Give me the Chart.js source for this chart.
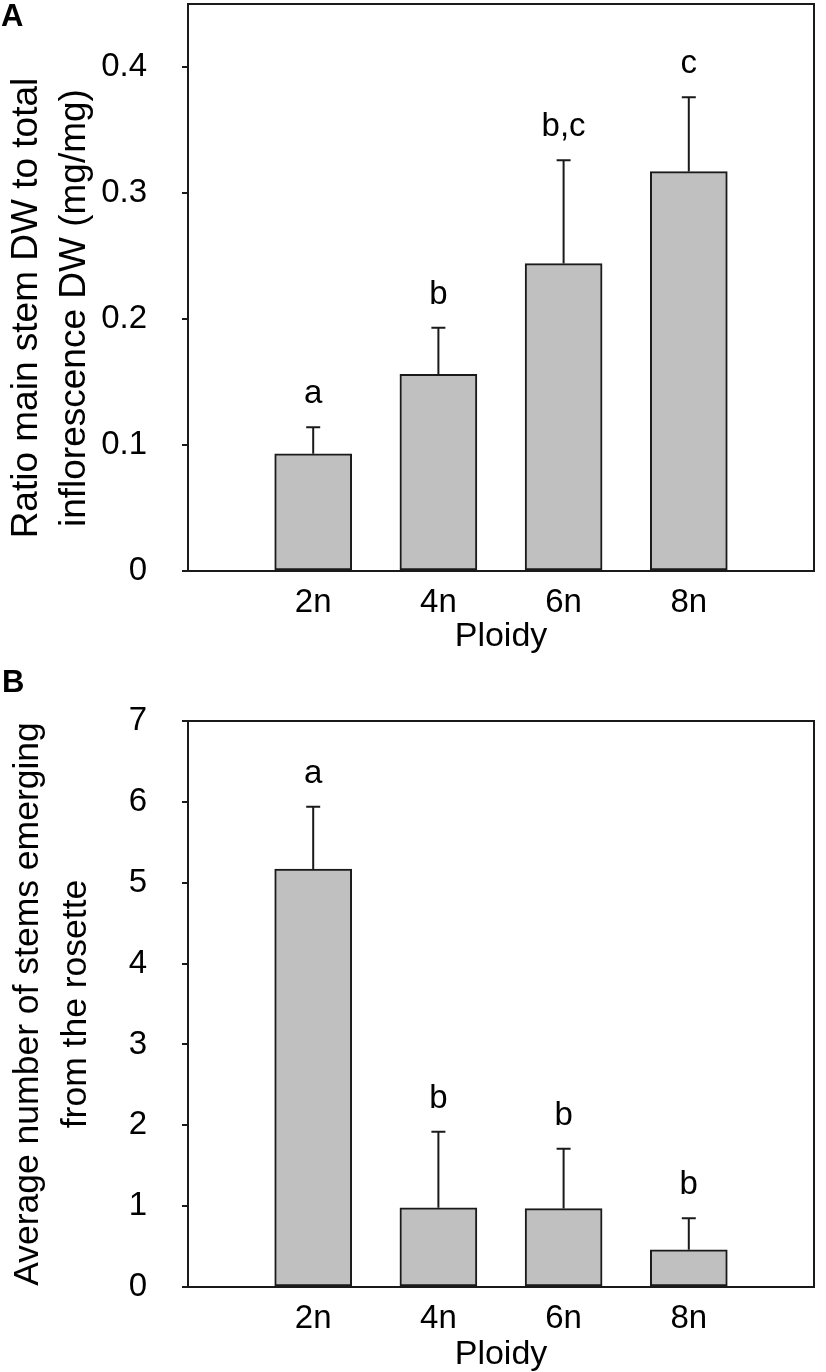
<!DOCTYPE html>
<html lang="en">

<head>
    <meta charset="UTF-8">
    <script src="https://cdn.jsdelivr.net/npm/chart.js@4.4.1/dist/chart.umd.min.js"></script>
    <title>Ploidy - stem ratio and stem number</title>
    <style>
        body { margin: 0; background: #fff; font-family: 'Liberation Sans', Arial, sans-serif; }
        .wrap { position: relative; width: 826px; height: 1372px; }
        canvas { position: absolute; left: 0; }
        #chartA { top: 0; }
        #chartB { top: 660px; }
        .tag { position: absolute; font-weight: bold; font-size: 31px; line-height: 1; color: #000; }
    </style>
</head>

<body>
    <div class="wrap">
        <canvas id="chartA" width="826" height="660"></canvas>
        <canvas id="chartB" width="826" height="712"></canvas>
        <div class="tag" style="left:1px; top:0px;">A</div>
        <div class="tag" style="left:2px; top:666px;">B</div>
    </div>

    <script>
        // empty slots at both ends so the bars sit one step in from the box edges
        const ploidy = ['', '2n', '4n', '6n', '8n', ''];

        const ratioMean = [null, 0.093, 0.156, 0.244, 0.317, null];
        const ratioErr = [null, 0.021, 0.037, 0.082, 0.059, null];
        const ratioLetters = ['', 'a', 'b', 'b,c', 'c', ''];

        const stemsMean = [null, 5.17, 0.98, 0.97, 0.46, null];
        const stemsErr = [null, 0.77, 0.94, 0.74, 0.39, null];
        const stemsLetters = ['', 'a', 'b', 'b', 'b', ''];

        Chart.defaults.font.family = "'Liberation Sans', Arial, sans-serif";
        Chart.defaults.color = '#000';

        const INK = '#1a1a1a';

        // upward error bars + significance letters, placed with the chart's scales
        const errorBars = {
            id: 'errorBars',
            afterDatasetsDraw(chart, args, opts) {
                const { ctx, scales: { x, y } } = chart;
                ctx.save();
                ctx.strokeStyle = INK;
                ctx.lineWidth = 2;
                ctx.fillStyle = '#000';
                ctx.font = '33px "Liberation Sans", Arial, sans-serif';
                ctx.textAlign = 'center';
                ctx.textBaseline = 'alphabetic';
                opts.means.forEach((m, i) => {
                    if (m === null) return;
                    const px = x.getPixelForValue(i);
                    const yBar = y.getPixelForValue(m);
                    const yTop = y.getPixelForValue(m + opts.errors[i]);
                    ctx.beginPath();
                    ctx.moveTo(px, yBar);
                    ctx.lineTo(px, yTop);
                    ctx.moveTo(px - 7, yTop);
                    ctx.lineTo(px + 7, yTop);
                    ctx.stroke();
                    ctx.fillText(opts.letters[i], px, yTop - 24);
                });
                ctx.restore();
            },
            afterDraw(chart) {
                const { ctx, chartArea: a } = chart;
                ctx.save();
                ctx.strokeStyle = INK;
                ctx.lineWidth = 2;
                ctx.strokeRect(a.left, a.top, a.right - a.left, a.bottom - a.top);
                ctx.restore();
            }
        };

        function drawChart(id, opt) {
            return new Chart(document.getElementById(id), {
                type: 'bar',
                data: {
                    labels: ploidy,
                    datasets: [{
                        data: opt.means,
                        backgroundColor: '#c0c0c0',
                        borderColor: INK,
                        borderWidth: 2,
                        borderSkipped: false,
                        barThickness: 77
                    }]
                },
                options: {
                    responsive: false,
                    animation: false,
                    layout: { padding: { top: opt.padTop, right: 1, left: 0, bottom: 0 } },
                    plugins: {
                        legend: { display: false },
                        tooltip: { enabled: false },
                        errorBars: { means: opt.means, errors: opt.errors, letters: opt.letters }
                    },
                    scales: {
                        x: {
                            offset: false,
                            grid: { display: false, drawTicks: false },
                            border: { display: true, color: INK, width: 2 },
                            ticks: { font: { size: 33 }, padding: 12, maxRotation: 0, autoSkip: false },
                            title: {
                                display: true, text: 'Ploidy',
                                font: { size: 34, lineHeight: 1 },
                                padding: { top: 0, bottom: opt.xTitlePad }
                            },
                            afterFit(s) { s.height = opt.xHeight; }
                        },
                        y: {
                            min: 0,
                            max: opt.max,
                            grid: { drawOnChartArea: false, color: INK, lineWidth: 2, tickLength: 6 },
                            border: { display: true, color: INK, width: 2 },
                            ticks: {
                                stepSize: opt.step,
                                includeBounds: false,
                                padding: 35,
                                font: { size: 33 },
                                callback: opt.fmt
                            },
                            title: {
                                display: true,
                                text: opt.yTitle,
                                font: { size: opt.yTitleSize, lineHeight: 48 / opt.yTitleSize },
                                padding: { top: opt.yTitlePad, bottom: 0 }
                            },
                            afterFit(s) {
                                s.width = 188;
                                // tick padding would otherwise push the plot box down
                                s.paddingTop = 0;
                                s.paddingBottom = 0;
                            }
                        }
                    }
                },
                plugins: [errorBars]
            });
        }

        // trailing spaces nudge the centred title a little towards the bottom, as in the original
        drawChart('chartA', {
            means: ratioMean, errors: ratioErr, letters: ratioLetters,
            max: 0.45, step: 0.1, padTop: 4, xHeight: 89, xTitlePad: 6,
            yTitle: ['Ratio main stem DW to total    ', 'inflorescence DW (mg/mg)    '],
            yTitleSize: 37, yTitlePad: 3,
            fmt: v => (v === 0 ? '0' : v.toFixed(1))
        });

        drawChart('chartB', {
            means: stemsMean, errors: stemsErr, letters: stemsLetters,
            max: 7, step: 1, padTop: 61, xHeight: 85, xTitlePad: 0,
            yTitle: ['Average number of stems emerging', 'from the rosette'],
            yTitleSize: 35.5, yTitlePad: 4,
            fmt: v => String(v)
        });
    </script>

</body>

</html>
